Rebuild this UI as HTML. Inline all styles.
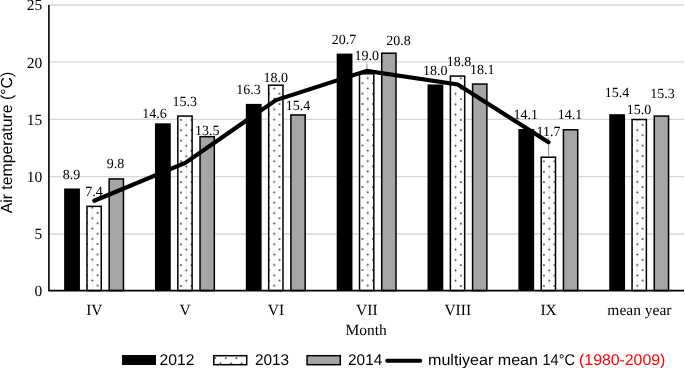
<!DOCTYPE html><html><head><meta charset="utf-8"><style>html,body{margin:0;padding:0;background:#fff;}svg{display:block;will-change:transform;text-rendering:geometricPrecision;}</style></head><body>
<svg width="685" height="368" viewBox="0 0 685 368">
<defs><pattern id="d0" patternUnits="userSpaceOnUse" x="87.00" y="244.10" width="10.6" height="10.38"><rect width="10.6" height="10.38" fill="#fff"/><line x1="5.3" y1="0" x2="5.3" y2="10.38" stroke="#ececec" stroke-width="0.8"/><rect x="-0.75" y="-0.75" width="1.5" height="1.5" fill="#111"/><rect x="9.85" y="-0.75" width="1.5" height="1.5" fill="#111"/><rect x="-0.75" y="9.63" width="1.5" height="1.5" fill="#111"/><rect x="9.85" y="9.63" width="1.5" height="1.5" fill="#111"/><rect x="4.55" y="4.44" width="1.5" height="1.5" fill="#111"/></pattern><pattern id="d1" patternUnits="userSpaceOnUse" x="180.90" y="202.90" width="10.6" height="10.38"><rect width="10.6" height="10.38" fill="#fff"/><line x1="5.3" y1="0" x2="5.3" y2="10.38" stroke="#ececec" stroke-width="0.8"/><rect x="-0.75" y="-0.75" width="1.5" height="1.5" fill="#111"/><rect x="9.85" y="-0.75" width="1.5" height="1.5" fill="#111"/><rect x="-0.75" y="9.63" width="1.5" height="1.5" fill="#111"/><rect x="9.85" y="9.63" width="1.5" height="1.5" fill="#111"/><rect x="4.55" y="4.44" width="1.5" height="1.5" fill="#111"/></pattern><pattern id="d2" patternUnits="userSpaceOnUse" x="268.90" y="207.90" width="10.6" height="10.38"><rect width="10.6" height="10.38" fill="#fff"/><line x1="5.3" y1="0" x2="5.3" y2="10.38" stroke="#ececec" stroke-width="0.8"/><rect x="-0.75" y="-0.75" width="1.5" height="1.5" fill="#111"/><rect x="9.85" y="-0.75" width="1.5" height="1.5" fill="#111"/><rect x="-0.75" y="9.63" width="1.5" height="1.5" fill="#111"/><rect x="9.85" y="9.63" width="1.5" height="1.5" fill="#111"/><rect x="4.55" y="4.44" width="1.5" height="1.5" fill="#111"/></pattern><pattern id="d3" patternUnits="userSpaceOnUse" x="362.50" y="155.90" width="10.6" height="10.38"><rect width="10.6" height="10.38" fill="#fff"/><line x1="5.3" y1="0" x2="5.3" y2="10.38" stroke="#ececec" stroke-width="0.8"/><rect x="-0.75" y="-0.75" width="1.5" height="1.5" fill="#111"/><rect x="9.85" y="-0.75" width="1.5" height="1.5" fill="#111"/><rect x="-0.75" y="9.63" width="1.5" height="1.5" fill="#111"/><rect x="9.85" y="9.63" width="1.5" height="1.5" fill="#111"/><rect x="4.55" y="4.44" width="1.5" height="1.5" fill="#111"/></pattern><pattern id="d4" patternUnits="userSpaceOnUse" x="450.30" y="202.90" width="10.6" height="10.38"><rect width="10.6" height="10.38" fill="#fff"/><line x1="5.3" y1="0" x2="5.3" y2="10.38" stroke="#ececec" stroke-width="0.8"/><rect x="-0.75" y="-0.75" width="1.5" height="1.5" fill="#111"/><rect x="9.85" y="-0.75" width="1.5" height="1.5" fill="#111"/><rect x="-0.75" y="9.63" width="1.5" height="1.5" fill="#111"/><rect x="9.85" y="9.63" width="1.5" height="1.5" fill="#111"/><rect x="4.55" y="4.44" width="1.5" height="1.5" fill="#111"/></pattern><pattern id="d5" patternUnits="userSpaceOnUse" x="543.90" y="202.90" width="10.6" height="10.38"><rect width="10.6" height="10.38" fill="#fff"/><line x1="5.3" y1="0" x2="5.3" y2="10.38" stroke="#ececec" stroke-width="0.8"/><rect x="-0.75" y="-0.75" width="1.5" height="1.5" fill="#111"/><rect x="9.85" y="-0.75" width="1.5" height="1.5" fill="#111"/><rect x="-0.75" y="9.63" width="1.5" height="1.5" fill="#111"/><rect x="9.85" y="9.63" width="1.5" height="1.5" fill="#111"/><rect x="4.55" y="4.44" width="1.5" height="1.5" fill="#111"/></pattern><pattern id="d6" patternUnits="userSpaceOnUse" x="632.00" y="207.90" width="10.6" height="10.38"><rect width="10.6" height="10.38" fill="#fff"/><line x1="5.3" y1="0" x2="5.3" y2="10.38" stroke="#ececec" stroke-width="0.8"/><rect x="-0.75" y="-0.75" width="1.5" height="1.5" fill="#111"/><rect x="9.85" y="-0.75" width="1.5" height="1.5" fill="#111"/><rect x="-0.75" y="9.63" width="1.5" height="1.5" fill="#111"/><rect x="9.85" y="9.63" width="1.5" height="1.5" fill="#111"/><rect x="4.55" y="4.44" width="1.5" height="1.5" fill="#111"/></pattern><pattern id="d7" patternUnits="userSpaceOnUse" x="215.20" y="358.20" width="10.6" height="10.38"><rect width="10.6" height="10.38" fill="#fff"/><line x1="5.3" y1="0" x2="5.3" y2="10.38" stroke="#ececec" stroke-width="0.8"/><rect x="-0.75" y="-0.75" width="1.5" height="1.5" fill="#111"/><rect x="9.85" y="-0.75" width="1.5" height="1.5" fill="#111"/><rect x="-0.75" y="9.63" width="1.5" height="1.5" fill="#111"/><rect x="9.85" y="9.63" width="1.5" height="1.5" fill="#111"/><rect x="4.55" y="4.44" width="1.5" height="1.5" fill="#111"/></pattern></defs>
<rect width="685" height="368" fill="#fff"/>
<line x1="48.9" y1="234.00" x2="684" y2="234.00" stroke="#d6d6d6" stroke-width="1.3"/>
<line x1="48.9" y1="176.60" x2="684" y2="176.60" stroke="#d6d6d6" stroke-width="1.3"/>
<line x1="48.9" y1="119.35" x2="684" y2="119.35" stroke="#d6d6d6" stroke-width="1.3"/>
<line x1="48.9" y1="61.90" x2="684" y2="61.90" stroke="#d6d6d6" stroke-width="1.3"/>
<line x1="48.9" y1="5.00" x2="684" y2="5.00" stroke="#d6d6d6" stroke-width="1.3"/>
<text x="42.3" y="296.10" font-family="'Liberation Serif', serif" font-size="15.5" text-anchor="end" fill="#000">0</text>
<text x="42.3" y="238.95" font-family="'Liberation Serif', serif" font-size="15.5" text-anchor="end" fill="#000">5</text>
<text x="42.3" y="181.80" font-family="'Liberation Serif', serif" font-size="15.5" text-anchor="end" fill="#000">10</text>
<text x="42.3" y="124.65" font-family="'Liberation Serif', serif" font-size="15.5" text-anchor="end" fill="#000">15</text>
<text x="42.3" y="67.50" font-family="'Liberation Serif', serif" font-size="15.5" text-anchor="end" fill="#000">20</text>
<text x="42.3" y="10.35" font-family="'Liberation Serif', serif" font-size="15.5" text-anchor="end" fill="#000">25</text>
<rect x="64.12" y="188.47" width="15.8" height="102.13" fill="#000"/>
<rect x="86.97" y="206.37" width="14.3" height="84.23" fill="url(#d0)" stroke="#000" stroke-width="1.5"/>
<rect x="109.17" y="178.94" width="14.3" height="111.66" fill="#a5a5a5" stroke="#000" stroke-width="1.5"/>
<rect x="154.97" y="123.32" width="15.8" height="167.28" fill="#000"/>
<rect x="177.82" y="116.07" width="14.3" height="174.53" fill="url(#d1)" stroke="#000" stroke-width="1.5"/>
<rect x="200.02" y="136.65" width="14.3" height="153.96" fill="#a5a5a5" stroke="#000" stroke-width="1.5"/>
<rect x="245.82" y="103.89" width="15.8" height="186.71" fill="#000"/>
<rect x="268.67" y="85.21" width="14.3" height="205.39" fill="url(#d2)" stroke="#000" stroke-width="1.5"/>
<rect x="290.88" y="114.93" width="14.3" height="175.67" fill="#a5a5a5" stroke="#000" stroke-width="1.5"/>
<rect x="336.67" y="53.60" width="15.8" height="237.00" fill="#000"/>
<rect x="359.52" y="73.78" width="14.3" height="216.82" fill="url(#d3)" stroke="#000" stroke-width="1.5"/>
<rect x="381.72" y="53.21" width="14.3" height="237.39" fill="#a5a5a5" stroke="#000" stroke-width="1.5"/>
<rect x="427.52" y="84.46" width="15.8" height="206.14" fill="#000"/>
<rect x="450.37" y="76.07" width="14.3" height="214.53" fill="url(#d4)" stroke="#000" stroke-width="1.5"/>
<rect x="472.57" y="84.07" width="14.3" height="206.53" fill="#a5a5a5" stroke="#000" stroke-width="1.5"/>
<rect x="518.37" y="129.04" width="15.8" height="161.56" fill="#000"/>
<rect x="541.22" y="157.22" width="14.3" height="133.38" fill="url(#d5)" stroke="#000" stroke-width="1.5"/>
<rect x="563.42" y="129.79" width="14.3" height="160.81" fill="#a5a5a5" stroke="#000" stroke-width="1.5"/>
<rect x="609.22" y="114.18" width="15.8" height="176.42" fill="#000"/>
<rect x="632.07" y="119.50" width="14.3" height="171.10" fill="url(#d6)" stroke="#000" stroke-width="1.5"/>
<rect x="654.27" y="116.07" width="14.3" height="174.53" fill="#a5a5a5" stroke="#000" stroke-width="1.5"/>
<line x1="48.9" y1="5" x2="48.9" y2="290.6" stroke="#000" stroke-width="1.6"/>
<line x1="48.1" y1="290.6" x2="684" y2="290.6" stroke="#000" stroke-width="1.6"/>
<line x1="548.6" y1="137.5" x2="548.6" y2="157" stroke="#8c8c8c" stroke-width="1"/>
<line x1="366.9" y1="63.5" x2="366.9" y2="73.5" stroke="#8c8c8c" stroke-width="1"/>
<polyline points="94.32,200.76 185.17,162.93 276.02,100.06 366.87,70.80 457.72,84.52 548.57,142.24" fill="none" stroke="#000" stroke-width="4.2" stroke-linejoin="miter" stroke-linecap="round"/>
<text x="71.55" y="179.30" font-family="'Liberation Serif', serif" font-size="14" text-anchor="middle">8.9</text>
<text x="94.05" y="195.70" font-family="'Liberation Serif', serif" font-size="14" text-anchor="middle">7.4</text>
<text x="115.55" y="168.40" font-family="'Liberation Serif', serif" font-size="14" text-anchor="middle">9.8</text>
<text x="154.60" y="117.50" font-family="'Liberation Serif', serif" font-size="14" text-anchor="middle">14.6</text>
<text x="184.80" y="105.80" font-family="'Liberation Serif', serif" font-size="14" text-anchor="middle">15.3</text>
<text x="207.20" y="135.20" font-family="'Liberation Serif', serif" font-size="14" text-anchor="middle">13.5</text>
<text x="248.50" y="94.00" font-family="'Liberation Serif', serif" font-size="14" text-anchor="middle">16.3</text>
<text x="275.80" y="82.00" font-family="'Liberation Serif', serif" font-size="14" text-anchor="middle">18.0</text>
<text x="297.90" y="110.00" font-family="'Liberation Serif', serif" font-size="14" text-anchor="middle">15.4</text>
<text x="344.00" y="43.90" font-family="'Liberation Serif', serif" font-size="14" text-anchor="middle">20.7</text>
<text x="366.70" y="60.00" font-family="'Liberation Serif', serif" font-size="14" text-anchor="middle">19.0</text>
<text x="398.40" y="45.00" font-family="'Liberation Serif', serif" font-size="14" text-anchor="middle">20.8</text>
<text x="435.30" y="74.80" font-family="'Liberation Serif', serif" font-size="14" text-anchor="middle">18.0</text>
<text x="459.00" y="65.80" font-family="'Liberation Serif', serif" font-size="14" text-anchor="middle">18.8</text>
<text x="482.20" y="73.60" font-family="'Liberation Serif', serif" font-size="14" text-anchor="middle">18.1</text>
<text x="525.70" y="118.90" font-family="'Liberation Serif', serif" font-size="14" text-anchor="middle">14.1</text>
<text x="548.40" y="135.60" font-family="'Liberation Serif', serif" font-size="14" text-anchor="middle">11.7</text>
<text x="569.90" y="118.90" font-family="'Liberation Serif', serif" font-size="14" text-anchor="middle">14.1</text>
<text x="617.00" y="97.30" font-family="'Liberation Serif', serif" font-size="14" text-anchor="middle">15.4</text>
<text x="639.10" y="114.20" font-family="'Liberation Serif', serif" font-size="14" text-anchor="middle">15.0</text>
<text x="662.40" y="98.40" font-family="'Liberation Serif', serif" font-size="14" text-anchor="middle">15.3</text>
<text x="94.32" y="314.5" font-family="'Liberation Serif', serif" font-size="15.5" text-anchor="middle">IV</text>
<text x="185.17" y="314.5" font-family="'Liberation Serif', serif" font-size="15.5" text-anchor="middle">V</text>
<text x="276.02" y="314.5" font-family="'Liberation Serif', serif" font-size="15.5" text-anchor="middle">VI</text>
<text x="366.87" y="314.5" font-family="'Liberation Serif', serif" font-size="15.5" text-anchor="middle">VII</text>
<text x="457.72" y="314.5" font-family="'Liberation Serif', serif" font-size="15.5" text-anchor="middle">VIII</text>
<text x="548.57" y="314.5" font-family="'Liberation Serif', serif" font-size="15.5" text-anchor="middle">IX</text>
<text x="639.42" y="314.5" font-family="'Liberation Serif', serif" font-size="15.5" text-anchor="middle">mean year</text>
<text x="366.2" y="335" font-family="'Liberation Serif', serif" font-size="15.5" text-anchor="middle">Month</text>
<text transform="translate(11.5,142.6) rotate(-90)" x="0" y="0" font-family="'Liberation Sans', sans-serif" font-size="16" text-anchor="middle" textLength="141.5" lengthAdjust="spacingAndGlyphs">Air temperature (°C)</text>
<rect x="122" y="355" width="34" height="10" fill="#000"/>
<text x="159.4" y="364.8" font-family="'Liberation Sans', sans-serif" font-size="15.5" textLength="35" lengthAdjust="spacingAndGlyphs">2012</text>
<rect x="213.8" y="355.7" width="32.9" height="9" fill="url(#d7)" stroke="#000" stroke-width="1.5"/>
<text x="255" y="364.8" font-family="'Liberation Sans', sans-serif" font-size="15.5" textLength="34.1" lengthAdjust="spacingAndGlyphs">2013</text>
<rect x="307.1" y="355.7" width="33.2" height="9" fill="#a5a5a5" stroke="#000" stroke-width="1.5"/>
<text x="348" y="364.8" font-family="'Liberation Sans', sans-serif" font-size="15.5" textLength="34.3" lengthAdjust="spacingAndGlyphs">2014</text>
<line x1="387.2" y1="360.8" x2="420.2" y2="360.8" stroke="#000" stroke-width="4.1" stroke-linecap="round"/>
<text x="428" y="364.8" font-family="'Liberation Sans', sans-serif" font-size="15.5" textLength="110" lengthAdjust="spacingAndGlyphs">multiyear mean</text>
<text x="542.5" y="364.8" font-family="'Liberation Sans', sans-serif" font-size="15.5" textLength="32.5" lengthAdjust="spacingAndGlyphs">14°C</text>
<text x="579.1" y="364.8" font-family="'Liberation Sans', sans-serif" font-size="15.5" fill="#ff0000" textLength="86.2" lengthAdjust="spacingAndGlyphs">(1980-2009)</text>
</svg></body></html>
